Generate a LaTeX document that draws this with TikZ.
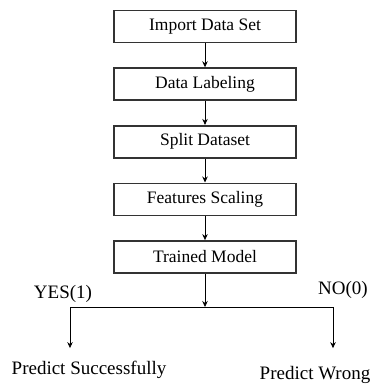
\documentclass[tikz,border=0pt]{standalone}
\usepackage{fontspec}
\setmainfont{Liberation Serif}
\usepackage{tikz}
\usetikzlibrary{arrows.meta,positioning,calc}

\begin{document}
\begin{tikzpicture}[
  x=1pt, y=-1pt,
  node distance=24pt,
  stage/.style={rectangle, draw=black!80, line width=1.6pt,
    minimum width=182pt, minimum height=32pt,
    text centered, font=\fontsize{17.5}{20}\selectfont},
  result/.style={inner sep=1pt, font=\fontsize{19}{22}\selectfont},
  arrow/.style={-{Stealth[length=6pt,width=5.5pt]}, line width=0.8pt}
]
\useasboundingbox (0,0) rectangle (374,385);

\node[stage] (imp) at (205,26.5) {Import Data Set};
\node[stage, below=of imp] (lab) {Data Labeling};
\node[stage, below=of lab] (spl) {Split Dataset};
\node[stage, below=of spl] (fea) {Features Scaling};
\node[stage, below=of fea] (trn) {Trained Model};

\node[result] (succ)  at (89,370)  {Predict Successfully};
\node[result] (wrong) at (315,375) {Predict Wrong};
\node[result] (yes)   at (63,294)  {YES(1)};
\node[result] (no)    at (343,290) {NO(0)};

\coordinate (fork)  at (trn.south |- 0,307);
\coordinate (forkl) at (70,307);
\coordinate (forkr) at (333,307);

\foreach \from/\to in {imp/lab,lab/spl,spl/fea,fea/trn} { \draw[arrow] (\from) -- (\to); }
\draw[arrow] (trn) -- (fork);
\draw[line width=0.8pt] (forkl) -- (forkr);
\draw[arrow, shorten >=12pt] (forkl) -- (forkl |- succ.north);
\draw[arrow, shorten >=17pt] (forkr) -- (forkr |- wrong.north);
\end{tikzpicture}
\end{document}
